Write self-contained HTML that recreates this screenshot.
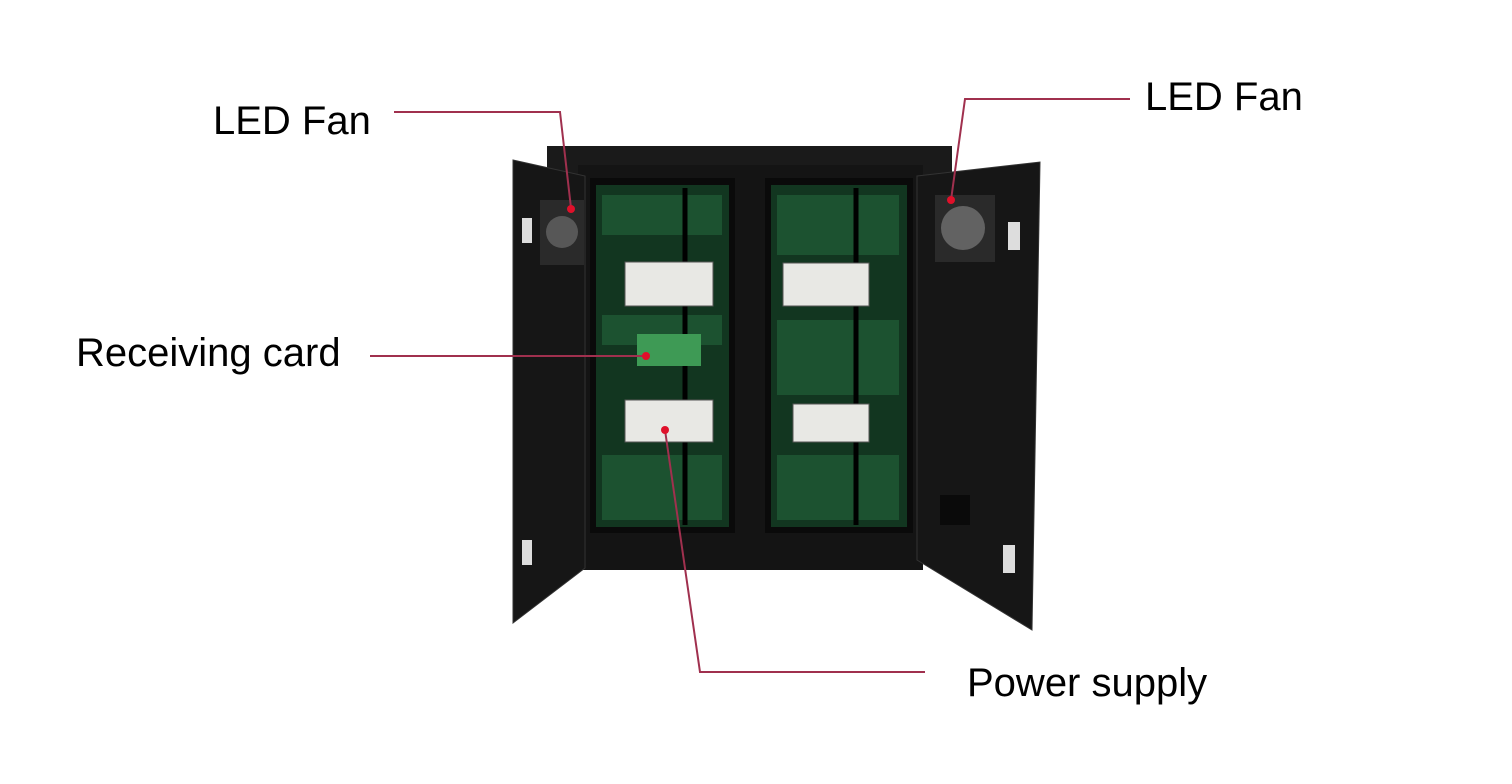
<!DOCTYPE html>
<html><head><meta charset="utf-8"><style>
html,body{margin:0;padding:0;background:#fff;}
svg{display:block}
text{font-family:"Liberation Sans",sans-serif;fill:#000;}
</style></head><body>
<svg width="1512" height="784" viewBox="0 0 1512 784" xmlns="http://www.w3.org/2000/svg">
<rect width="1512" height="784" fill="#fff"/>
<rect x="547" y="146" width="405" height="30" fill="#1a1a1a"/>
<rect x="578" y="165" width="345" height="405" fill="#141414"/>
<rect x="590" y="178" width="145" height="355" fill="#0a0a0a"/>
<rect x="596" y="185" width="133" height="342" fill="#123620"/>
<rect x="765" y="178" width="148" height="355" fill="#0a0a0a"/>
<rect x="771" y="185" width="136" height="342" fill="#123620"/>
<g fill="#1f5a34" opacity="0.8">
<rect x="602" y="195" width="120" height="40"/><rect x="602" y="315" width="120" height="30"/><rect x="602" y="455" width="120" height="65"/>
<rect x="777" y="195" width="122" height="60"/><rect x="777" y="320" width="122" height="75"/><rect x="777" y="455" width="122" height="65"/>
</g>
<g stroke="#000" stroke-width="5"><line x1="685" y1="188" x2="685" y2="525"/><line x1="856" y1="188" x2="856" y2="525"/></g>
<rect x="625" y="262" width="88" height="44" fill="#e8e8e4" stroke="#555"/>
<rect x="625" y="400" width="88" height="42" fill="#e8e8e4" stroke="#555"/>
<rect x="783" y="263" width="86" height="43" fill="#e8e8e4" stroke="#555"/>
<rect x="793" y="404" width="76" height="38" fill="#e8e8e4" stroke="#555"/>
<rect x="637" y="334" width="64" height="32" fill="#3e9a55"/>
<polygon points="513,160 585,176 585,568 513,623" fill="#161616" stroke="#333"/>
<rect x="540" y="200" width="44" height="65" fill="#2a2a2a"/>
<circle cx="562" cy="232" r="16" fill="#777" opacity="0.6"/>
<rect x="522" y="218" width="10" height="25" fill="#ddd"/>
<rect x="522" y="540" width="10" height="25" fill="#ddd"/>
<polygon points="917,176 1040,162 1032,630 917,560" fill="#161616" stroke="#333"/>
<rect x="935" y="195" width="60" height="67" fill="#2a2a2a"/>
<circle cx="963" cy="228" r="22" fill="#888" opacity="0.6"/>
<rect x="1008" y="222" width="12" height="28" fill="#ddd"/>
<rect x="1003" y="545" width="12" height="28" fill="#ddd"/>
<rect x="940" y="495" width="30" height="30" fill="#0a0a0a"/>
<g stroke="#a0304e" stroke-width="2" fill="none">
<polyline points="394,112 560,112 571,208"/>
<polyline points="1130,99 965,99 951,200"/>
<polyline points="370,356 645,356"/>
<polyline points="925,672 700,672 665,430"/>
</g>
<g fill="#e0102a">
<circle cx="571" cy="209" r="4"/><circle cx="951" cy="200" r="4"/><circle cx="646" cy="356" r="4"/><circle cx="665" cy="430" r="4"/>
</g>
<text x="213" y="134" font-size="40">LED Fan</text>
<text x="1145" y="110" font-size="40">LED Fan</text>
<text x="76" y="366" font-size="40">Receiving card</text>
<text x="967" y="696" font-size="40">Power supply</text>
</svg>
</body></html>
